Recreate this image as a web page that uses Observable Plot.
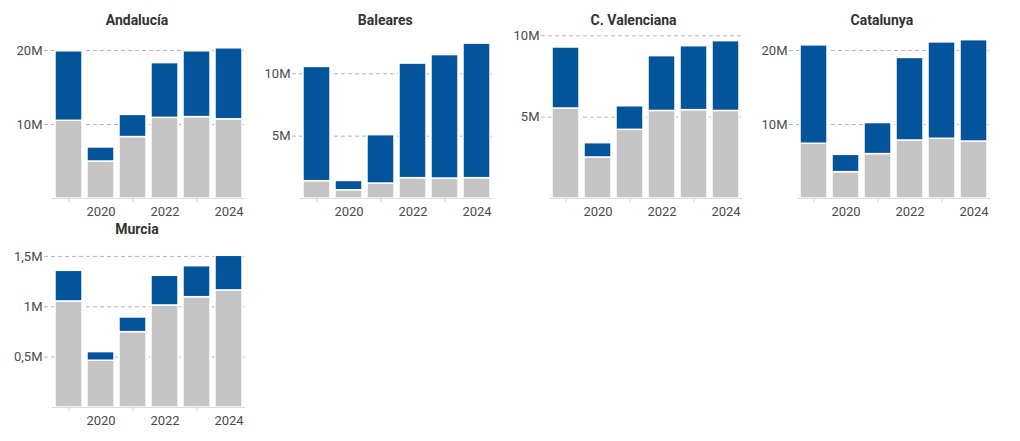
<!DOCTYPE html>
<html>
<head>
<meta charset="utf-8">
<script src="https://cdn.jsdelivr.net/npm/d3@7"></script>
<script src="https://cdn.jsdelivr.net/npm/@observablehq/plot@0.6"></script>
<style>
  html, body { margin: 0; padding: 0; background: #fff; }
  body { width: 1020px; height: 441px; position: relative; overflow: hidden; font-family: Roboto, "Noto Sans", sans-serif; }
  .panel { position: absolute; width: 248px; height: 222px; }
  .title { position: absolute; top: 11px; left: 0; width: 274px; text-align: center; font-weight: 700; font-size: 14px; color: #333; line-height: 18px; }
  .panel svg { position: absolute; top: 0; left: 0; }
</style>
</head>
<body>
<div id="root"></div>
<script>
const years = [2019, 2020, 2021, 2022, 2023, 2024];
const regions = ["Andalucía", "Baleares", "C. Valenciana", "Catalunya", "Murcia"];
// grey segment (bottom), in millions
const greyVals = {
  "Andalucía":     [10.5, 5.0, 8.3, 10.9, 11.0, 10.7],
  "Baleares":      [1.39, 0.66, 1.2, 1.63, 1.6, 1.63],
  "C. Valenciana": [5.53, 2.52, 4.22, 5.38, 5.43, 5.38],
  "Catalunya":     [7.4, 3.56, 6.0, 7.84, 8.07, 7.7],
  "Murcia":        [1.053, 0.464, 0.748, 1.013, 1.095, 1.162]
};
// blue segment (top), in millions
const blueVals = {
  "Andalucía":     [9.4, 1.9, 3.0, 7.4, 8.9, 9.6],
  "Baleares":      [9.16, 0.75, 3.88, 9.19, 9.9, 10.79],
  "C. Valenciana": [3.75, 0.88, 1.45, 3.37, 3.93, 4.29],
  "Catalunya":     [13.3, 2.34, 4.2, 11.16, 13.03, 13.7],
  "Murcia":        [0.304, 0.086, 0.146, 0.295, 0.308, 0.344]
};
const yTicks = {
  "Andalucía": [10, 20],
  "Baleares": [5, 10],
  "C. Valenciana": [5, 10],
  "Catalunya": [10, 20],
  "Murcia": [0.5, 1, 1.5]
};
const yMax = {
  "Andalucía": 22.3,
  "Baleares": 13.23,
  "C. Valenciana": 10.14,
  "Catalunya": 22.3,
  "Murcia": 1.638
};
const colGrey = "#c4c4c4";
const colBlue = "#03549a";
const fmt = d => String(d).replace(".", ",") + "M";

const root = document.getElementById("root");
regions.forEach((r, i) => {
  const col = i % 4, row = Math.floor(i / 4);
  const div = document.createElement("div");
  div.className = "panel";
  div.style.left = (col * 248.3) + "px";
  div.style.top = (row * 209) + "px";
  const t = document.createElement("div");
  t.className = "title";
  t.textContent = r;
  div.appendChild(t);

  const data = [];
  years.forEach((y, j) => {
    data.push({year: y, serie: "s1", value: greyVals[r][j]});
    data.push({year: y, serie: "s2", value: blueVals[r][j]});
  });

  const chart = Plot.plot({
    width: 248,
    height: 222,
    marginLeft: 52,
    marginRight: 3,
    marginTop: 33,
    marginBottom: 24,
    style: {fontFamily: "Roboto, sans-serif", fontSize: "13px", background: "transparent", overflow: "visible"},
    x: {type: "band", domain: years, paddingInner: 0.16, paddingOuter: 0.08, label: null},
    y: {domain: [0, yMax[r]], label: null},
    color: {domain: ["s1", "s2"], range: [colGrey, colBlue]},
    marks: [
      Plot.ruleY(yTicks[r], {stroke: "#b5b5b5", strokeDasharray: "4,3", insetLeft: -8}),
      Plot.barY(data, Plot.stackY({x: "year", y: "value", fill: "serie", stroke: "white", strokeWidth: 1.5})),
      Plot.ruleY([0], {stroke: "#dcdcdc"}),
      Plot.axisY({ticks: yTicks[r], tickFormat: fmt, tickSize: 0, tickPadding: 10, fill: "#4a4a4a", fontSize: 13}),
      Plot.axisX({ticks: [2019, 2021, 2023], tickSize: 4, tickFormat: () => "", stroke: "#d0d0d0"}),
      Plot.axisX({ticks: [2020, 2022, 2024], tickSize: 0, tickPadding: 8, tickFormat: d => String(d), fill: "#4a4a4a", fontSize: 13})
    ]
  });
  div.appendChild(chart);
  root.appendChild(div);
});
</script>
</body>
</html>
